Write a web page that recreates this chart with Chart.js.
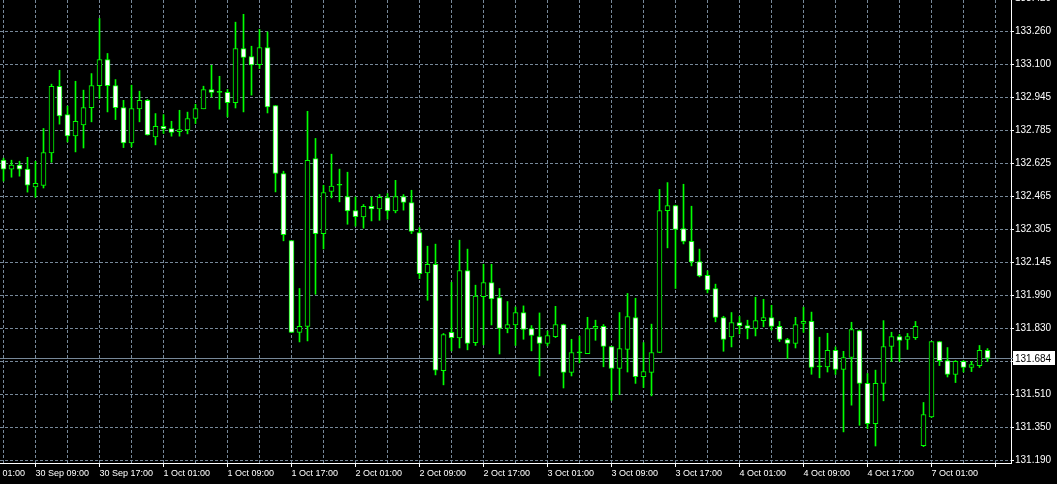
<!DOCTYPE html>
<html><head><meta charset="utf-8">
<script src="https://cdn.jsdelivr.net/npm/chart.js@4.4.1/dist/chart.umd.min.js"></script>
<style>html,body{margin:0;padding:0;background:#000;overflow:hidden}#wrap{width:1057px;height:484px}</style>
</head><body><div id="wrap"><canvas id="c" width="1057" height="484"></canvas></div>
<script>
// H1 candles (oldest -> newest)
const opens = [132.639,132.596,132.615,132.596,132.510,132.517,132.674,132.995,132.859,132.756,
132.809,132.893,132.999,133.125,132.999,132.893,132.722,132.887,132.928,132.751,
132.802,132.792,132.777,132.785,132.840,132.887,132.980,132.966,132.966,132.917,
133.178,133.139,133.100,133.183,132.903,132.575,132.251,131.808,131.837,132.647,
132.285,132.488,132.518,132.464,132.396,132.365,132.416,132.404,132.459,132.394,
132.464,132.435,132.290,132.095,132.136,131.624,131.808,131.782,132.107,131.759,
131.981,132.049,131.976,131.827,131.844,131.904,131.827,131.788,131.755,131.788,
131.846,131.615,131.709,131.706,131.827,131.837,131.740,131.634,131.726,131.880,
131.595,131.615,131.711,132.396,132.420,132.309,132.247,132.150,132.083,132.020,
131.880,131.786,131.856,131.841,131.827,131.865,131.880,131.837,131.774,131.755,
131.851,131.861,131.642,131.642,131.721,131.629,131.687,131.817,131.562,131.368,
131.562,131.740,131.788,131.774,131.783,131.262,131.400,131.764,131.672,131.605,
131.668,131.639,131.648,131.721];
const highs = [132.649,132.639,132.634,132.653,132.634,132.792,133.006,133.073,132.900,133.020,
132.977,133.057,133.323,133.154,133.028,132.928,133.001,132.972,132.932,132.864,
132.859,132.827,132.880,132.871,132.909,132.996,133.097,133.044,132.980,133.305,
133.343,133.189,133.270,133.258,132.903,132.586,132.251,132.020,132.875,132.744,
132.518,132.668,132.596,132.581,132.462,132.425,132.462,132.473,132.478,132.542,
132.473,132.494,132.314,132.224,132.234,131.803,132.050,132.253,132.210,132.036,
132.137,132.137,132.020,131.957,131.931,131.936,131.841,131.902,131.815,131.934,
131.848,131.775,131.790,131.881,131.867,131.846,131.742,131.904,131.996,131.973,
131.759,131.848,132.498,132.531,132.422,132.523,132.417,132.210,132.105,132.041,
131.886,131.904,131.885,131.867,131.978,131.968,131.939,131.861,131.779,131.881,
131.930,131.906,131.785,131.804,131.738,131.717,131.857,131.819,131.610,131.626,
131.865,131.809,131.798,131.803,131.861,131.470,131.765,131.765,131.735,131.672,
131.672,131.668,131.745,131.730];
const lows = [132.538,132.557,132.562,132.485,132.460,132.505,132.629,132.813,132.727,132.679,
132.698,132.824,132.937,132.872,132.835,132.700,132.703,132.824,132.760,132.713,
132.768,132.755,132.755,132.766,132.816,132.887,132.944,132.885,132.848,132.891,
132.872,132.953,133.081,132.867,132.486,132.250,131.807,131.762,131.767,131.992,
132.211,132.457,132.438,132.330,132.321,132.311,132.346,132.349,132.354,132.385,
132.398,132.285,132.068,131.963,131.603,131.555,131.719,131.733,131.724,131.745,
131.748,131.844,131.704,131.806,131.745,131.775,131.719,131.598,131.743,131.783,
131.540,131.598,131.661,131.706,131.770,131.642,131.481,131.508,131.617,131.562,
131.542,131.502,131.711,132.216,132.020,132.235,132.129,132.076,131.999,131.859,
131.717,131.738,131.801,131.777,131.791,131.835,131.819,131.764,131.682,131.733,
131.808,131.606,131.589,131.617,131.605,131.328,131.457,131.360,131.344,131.260,
131.478,131.668,131.668,131.726,131.774,131.257,131.397,131.648,131.593,131.566,
131.617,131.619,131.639,131.668];
const closes = [132.596,132.615,132.596,132.518,132.527,132.676,132.995,132.853,132.756,132.826,
132.893,132.999,133.125,132.999,132.893,132.722,132.888,132.928,132.761,132.802,
132.790,132.773,132.787,132.840,132.888,132.980,132.966,132.966,132.917,133.178,
133.135,133.099,133.183,132.896,132.575,132.280,131.808,131.837,132.638,132.285,
132.483,132.514,132.518,132.394,132.367,132.416,132.404,132.460,132.394,132.464,
132.435,132.295,132.092,132.136,131.626,131.798,131.783,132.107,131.755,131.983,
132.049,131.970,131.827,131.846,131.904,131.822,131.793,131.755,131.793,131.846,
131.615,131.711,131.709,131.827,131.837,131.740,131.634,131.730,131.885,131.595,
131.619,131.711,132.396,132.420,132.305,132.247,132.148,132.081,132.013,131.880,
131.774,131.856,131.841,131.827,131.865,131.880,131.837,131.774,131.755,131.846,
131.861,131.639,131.642,131.721,131.629,131.687,131.822,131.562,131.368,131.562,
131.740,131.788,131.769,131.788,131.837,131.412,131.764,131.672,131.605,131.668,
131.639,131.653,131.721,131.684];

// time labels, one every 8 bars, first one sits 4 bars before the first candle
const timeLabels = ['30 Sep 01:00','30 Sep 09:00','30 Sep 17:00','1 Oct 01:00','1 Oct 09:00',
'1 Oct 17:00','2 Oct 01:00','2 Oct 09:00','2 Oct 17:00','3 Oct 01:00','3 Oct 09:00',
'3 Oct 17:00','4 Oct 01:00','4 Oct 09:00','4 Oct 17:00','7 Oct 01:00'];
const timeLabelStartBar = -4;
const barsPerLabel = 8;
const barsPerGrid = 4;

// price scale labels, bottom -> top
const yTickLabels = ['131.190','131.350','131.510','131.670','131.830','131.990','132.145',
'132.305','132.465','132.625','132.785','132.945','133.100','133.260','133.420'];

const LIME = '#00ff00', GRID = '#778899', AXIS = '#ffffff';
const lastPrice = closes[closes.length - 1];

const bodyData = opens.map((o, i) => ({x: i, y: [o, closes[i]]}));
const wickData = highs.map((h, i) => ({x: i, y: [lows[i], h]}));

const yFirst = parseFloat(yTickLabels[0]);
const yStep = (parseFloat(yTickLabels[yTickLabels.length - 1]) - yFirst) / (yTickLabels.length - 1);

const bgPlugin = {
  id: 'bg',
  beforeDraw(chart) {
    const c = chart.ctx; c.save(); c.fillStyle = '#000';
    c.fillRect(0, 0, chart.width, chart.height); c.restore();
  }
};
const priceLinePlugin = {
  id: 'priceLine',
  beforeDatasetsDraw(chart) {
    const {ctx, chartArea, scales} = chart;
    const y = Math.round(scales.y.getPixelForValue(lastPrice)) + 0.5;
    ctx.save(); ctx.strokeStyle = GRID; ctx.lineWidth = 1;
    ctx.beginPath(); ctx.moveTo(chartArea.left, y); ctx.lineTo(chartArea.right, y); ctx.stroke();
    ctx.restore();
  },
  afterDraw(chart) {
    const {ctx, chartArea, scales} = chart;
    const y = Math.round(scales.y.getPixelForValue(lastPrice));
    ctx.save();
    ctx.fillStyle = '#fff';
    ctx.fillRect(chartArea.right + 2, y - 7, 42, 14);
    ctx.strokeStyle = GRID; ctx.beginPath(); ctx.moveTo(chartArea.right, y + 0.5); ctx.lineTo(chartArea.right + 2, y + 0.5); ctx.stroke();
    ctx.fillStyle = '#000'; ctx.font = '10px "Liberation Sans"'; ctx.textBaseline = 'middle'; ctx.textAlign = 'left';
    ctx.fillText(lastPrice.toFixed(3), chartArea.right + 4, y + 1);
    ctx.restore();
  }
};

new Chart(document.getElementById('c'), {
  type: 'bar',
  data: {
    datasets: [
      {
        label: 'body', data: bodyData, grouped: false, barThickness: 5, borderWidth: 1,
        borderColor: LIME, borderSkipped: false, minBarLength: 1,
        backgroundColor: (c) => {
          const i = c.dataIndex; if (i === undefined) return '#000';
          return closes[i] < opens[i] ? '#ffffff' : (closes[i] === opens[i] ? LIME : '#000000');
        }
      },
      {
        label: 'wick', data: wickData, grouped: false, barThickness: 1, borderWidth: 0,
        backgroundColor: LIME
      }
    ]
  },
  options: {
    responsive: false, animation: false, devicePixelRatio: 1,
    layout: {padding: 0},
    plugins: {legend: {display: false}, tooltip: {enabled: false}},
    scales: {
      x: {
        type: 'linear', min: -0.4375, max: 125.9375, offset: false,
        afterBuildTicks: (s) => {
          const t = [];
          for (let v = timeLabelStartBar; v <= opens.length; v += barsPerGrid) t.push({value: v});
          s.ticks = t;
        },
        afterFit: (s) => { s.height = 21; s.paddingLeft = 0; s.paddingRight = 0; },
        ticks: {
          autoSkip: false, minRotation: 0, maxRotation: 0, align: 'start', padding: 1,
          color: AXIS, font: {family: 'Liberation Sans', size: 9},
          callback: (v) => {
            const m = (v - timeLabelStartBar) / barsPerLabel;
            return (Number.isInteger(m) && m < timeLabels.length) ? timeLabels[m] : '';
          }
        },
        grid: {
          color: GRID, offset: false, tickLength: 4,
          tickColor: (c) => {
            const v = c.tick ? c.tick.value : 0;
            return ((v - timeLabelStartBar) % barsPerLabel === 0) ? AXIS : 'rgba(0,0,0,0)';
          }
        },
        border: {color: AXIS, width: 1, dash: [3, 2]}
      },
      y: {
        type: 'linear', position: 'right', min: 131.17794, max: 133.41199, stacked: false,
        afterBuildTicks: (s) => { s.ticks = yTickLabels.map((l, k) => ({value: yFirst + k * yStep})); },
        afterFit: (s) => { s.width = 46; s.paddingTop = 0; s.paddingBottom = 0; },
        ticks: {
          autoSkip: false, padding: 1, color: AXIS, font: {family: 'Liberation Sans', size: 10},
          callback: (v, i) => yTickLabels[i]
        },
        grid: {color: GRID, tickColor: AXIS, tickLength: 3},
        border: {color: AXIS, width: 1, dash: [3, 2]}
      }
    }
  },
  plugins: [bgPlugin, priceLinePlugin]
});
</script>
</body></html>
